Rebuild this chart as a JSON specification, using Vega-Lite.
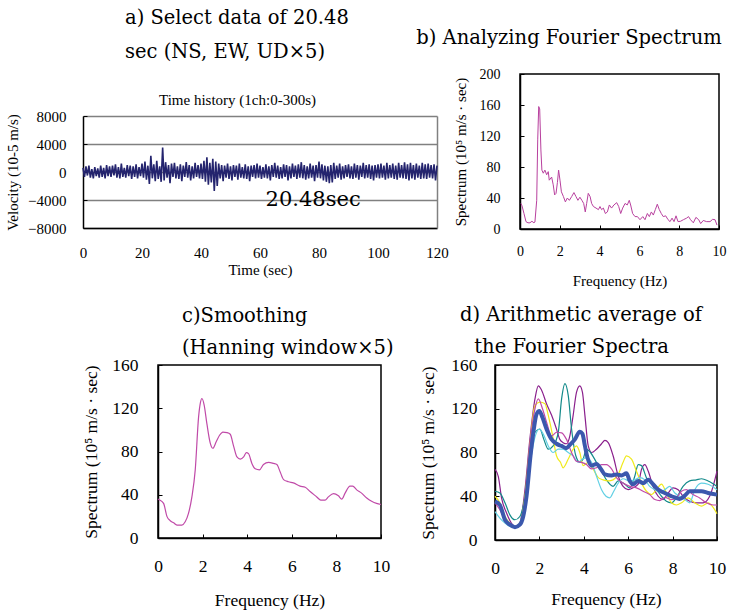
{
  "$schema": "https://vega.github.io/schema/vega-lite/v6.json",
  "autosize": {"type": "none"},
  "padding": {"left": 158, "top": 74, "right": 586, "bottom": 536},
  "background": "white",
  "config": {
    "font": "Liberation Serif",
    "view": {"stroke": "black", "strokeWidth": 1.5},
    "axis": {"labelFont": "Liberation Serif", "labelFontSize": 15, "labelColor": "black", "titleFont": "Liberation Serif", "titleFontSize": 15, "titleFontWeight": "normal", "titleColor": "black", "domainColor": "black", "domainWidth": 1.5, "tickColor": "black", "grid": false, "tickSize": -4, "labelFlush": false, "labelOverlap": false},
    "title": {"font": "DejaVu Serif", "fontSize": 19.5, "fontWeight": "normal", "color": "black", "frame": "group"}
  },
  "datasets": {
    "ts": [
      {"t":0,"v":600},{"t":0.5,"v":-700},{"t":1,"v":800},{"t":1.5,"v":-500},{"t":2,"v":900},{"t":2.5,"v":-800},{"t":3,"v":400},{"t":3.5,"v":-900},{"t":4,"v":700},{"t":4.5,"v":-600},
      {"t":5,"v":500},{"t":5.5,"v":-800},{"t":6,"v":900},{"t":6.5,"v":-700},{"t":7,"v":600},{"t":7.5,"v":-900},{"t":8,"v":1000},{"t":8.5,"v":-600},{"t":9,"v":800},{"t":9.5,"v":-700},
      {"t":10,"v":900},{"t":10.5,"v":-500},{"t":11,"v":1100},{"t":11.5,"v":-800},{"t":12,"v":700},{"t":12.5,"v":-900},{"t":13,"v":1200},{"t":13.5,"v":-700},{"t":14,"v":600},{"t":14.5,"v":-800},
      {"t":15,"v":1000},{"t":15.5,"v":-600},{"t":16,"v":900},{"t":16.5,"v":-1000},{"t":17,"v":800},{"t":17.5,"v":-700},{"t":18,"v":1100},{"t":18.5,"v":-900},{"t":19,"v":700},{"t":19.5,"v":-600},
      {"t":20,"v":1200},{"t":20.5,"v":-800},{"t":21,"v":1500},{"t":21.5,"v":-1100},{"t":22,"v":900},{"t":22.5,"v":-1700},{"t":23,"v":2300},{"t":23.5,"v":-900},{"t":24,"v":1100},{"t":24.5,"v":-1300},
      {"t":25,"v":1600},{"t":25.5,"v":-1000},{"t":26,"v":800},{"t":26.5,"v":-1400},{"t":27,"v":3500},{"t":27.5,"v":-1200},{"t":28,"v":1400},{"t":28.5,"v":-800},{"t":29,"v":1000},{"t":29.5,"v":-1600},
      {"t":30,"v":1200},{"t":30.5,"v":-700},{"t":31,"v":1300},{"t":31.5,"v":-900},{"t":32,"v":800},{"t":32.5,"v":-1000},{"t":33,"v":1100},{"t":33.5,"v":-1300},{"t":34,"v":900},{"t":34.5,"v":-700},
      {"t":35,"v":1400},{"t":35.5,"v":-800},{"t":36,"v":1000},{"t":36.5,"v":-1200},{"t":37,"v":800},{"t":37.5,"v":-900},{"t":38,"v":1300},{"t":38.5,"v":-700},{"t":39,"v":1000},{"t":39.5,"v":-900},
      {"t":40,"v":1200},{"t":40.5,"v":-1000},{"t":41,"v":1600},{"t":41.5,"v":-1400},{"t":42,"v":2100},{"t":42.5,"v":-1800},{"t":43,"v":1300},{"t":43.5,"v":-1500},{"t":44,"v":1900},{"t":44.5,"v":-2700},
      {"t":45,"v":1500},{"t":45.5,"v":-2000},{"t":46,"v":1200},{"t":46.5,"v":-900},{"t":47,"v":1000},{"t":47.5,"v":-1300},{"t":48,"v":900},{"t":48.5,"v":-800},{"t":49,"v":1200},{"t":49.5,"v":-1000},
      {"t":50,"v":800},{"t":50.5,"v":-1200},{"t":51,"v":1000},{"t":51.5,"v":-700},{"t":52,"v":900},{"t":52.5,"v":-1100},{"t":53,"v":1200},{"t":53.5,"v":-800},{"t":54,"v":700},{"t":54.5,"v":-900},
      {"t":55,"v":1100},{"t":55.5,"v":-1000},{"t":56,"v":800},{"t":56.5,"v":-1300},{"t":57,"v":900},{"t":57.5,"v":-700},{"t":58,"v":1000},{"t":58.5,"v":-900},{"t":59,"v":1200},{"t":59.5,"v":-800},
      {"t":60,"v":900},{"t":60.5,"v":-1000},{"t":61,"v":700},{"t":61.5,"v":-800},{"t":62,"v":1100},{"t":62.5,"v":-900},{"t":63,"v":800},{"t":63.5,"v":-1200},{"t":64,"v":1000},{"t":64.5,"v":-700},
      {"t":65,"v":1300},{"t":65.5,"v":-800},{"t":66,"v":900},{"t":66.5,"v":-1000},{"t":67,"v":700},{"t":67.5,"v":-900},{"t":68,"v":1100},{"t":68.5,"v":-700},{"t":69,"v":1000},{"t":69.5,"v":-1200},
      {"t":70,"v":800},{"t":70.5,"v":-900},{"t":71,"v":1200},{"t":71.5,"v":-700},{"t":72,"v":900},{"t":72.5,"v":-1000},{"t":73,"v":1100},{"t":73.5,"v":-800},{"t":74,"v":1400},{"t":74.5,"v":-900},
      {"t":75,"v":1000},{"t":75.5,"v":-1100},{"t":76,"v":800},{"t":76.5,"v":-900},{"t":77,"v":1200},{"t":77.5,"v":-800},{"t":78,"v":900},{"t":78.5,"v":-1300},{"t":79,"v":1000},{"t":79.5,"v":-800},
      {"t":80,"v":1500},{"t":80.5,"v":-900},{"t":81,"v":1100},{"t":81.5,"v":-1200},{"t":82,"v":900},{"t":82.5,"v":-1400},{"t":83,"v":800},{"t":83.5,"v":-1600},{"t":84,"v":1000},{"t":84.5,"v":-1500},
      {"t":85,"v":1300},{"t":85.5,"v":-1000},{"t":86,"v":900},{"t":86.5,"v":-800},{"t":87,"v":1200},{"t":87.5,"v":-1100},{"t":88,"v":800},{"t":88.5,"v":-900},{"t":89,"v":1000},{"t":89.5,"v":-700},
      {"t":90,"v":1100},{"t":90.5,"v":-900},{"t":91,"v":800},{"t":91.5,"v":-1000},{"t":92,"v":1200},{"t":92.5,"v":-800},{"t":93,"v":1000},{"t":93.5,"v":-1100},{"t":94,"v":900},{"t":94.5,"v":-700},
      {"t":95,"v":1300},{"t":95.5,"v":-900},{"t":96,"v":1000},{"t":96.5,"v":-800},{"t":97,"v":1100},{"t":97.5,"v":-1000},{"t":98,"v":900},{"t":98.5,"v":-1200},{"t":99,"v":1000},{"t":99.5,"v":-800},
      {"t":100,"v":1100},{"t":100.5,"v":-900},{"t":101,"v":1200},{"t":101.5,"v":-800},{"t":102,"v":900},{"t":102.5,"v":-1100},{"t":103,"v":1300},{"t":103.5,"v":-900},{"t":104,"v":1000},{"t":104.5,"v":-800},
      {"t":105,"v":1200},{"t":105.5,"v":-1000},{"t":106,"v":900},{"t":106.5,"v":-1100},{"t":107,"v":1300},{"t":107.5,"v":-800},{"t":108,"v":1000},{"t":108.5,"v":-900},{"t":109,"v":1400},{"t":109.5,"v":-1000},
      {"t":110,"v":1100},{"t":110.5,"v":-1200},{"t":111,"v":1300},{"t":111.5,"v":-900},{"t":112,"v":1000},{"t":112.5,"v":-1100},{"t":113,"v":1200},{"t":113.5,"v":-800},{"t":114,"v":900},{"t":114.5,"v":-1000},
      {"t":115,"v":1300},{"t":115.5,"v":-900},{"t":116,"v":1100},{"t":116.5,"v":-1000},{"t":117,"v":1200},{"t":117.5,"v":-800},{"t":118,"v":1000},{"t":118.5,"v":-900},{"t":119,"v":1100},{"t":119.5,"v":-1200},
      {"t":120,"v":900}
    ],
    "fourier": [
      {"f":0.05,"s":33},{"f":0.1,"s":30},{"f":0.2,"s":20},{"f":0.3,"s":9.5},{"f":0.4,"s":8},{"f":0.5,"s":8},{"f":0.6,"s":10},{"f":0.7,"s":8},{"f":0.75,"s":9},{"f":0.84,"s":37},
      {"f":0.89,"s":115},{"f":0.94,"s":158},{"f":0.99,"s":155},{"f":1.05,"s":102},{"f":1.1,"s":76},{"f":1.17,"s":72},{"f":1.25,"s":76},{"f":1.34,"s":70},{"f":1.42,"s":74},{"f":1.47,"s":63},
      {"f":1.59,"s":67},{"f":1.67,"s":57},{"f":1.74,"s":44},{"f":1.81,"s":46},{"f":1.88,"s":60},{"f":1.94,"s":76},{"f":2.01,"s":63},{"f":2.08,"s":48},{"f":2.18,"s":42},{"f":2.28,"s":35},
      {"f":2.38,"s":40},{"f":2.48,"s":37},{"f":2.6,"s":42},{"f":2.71,"s":47},{"f":2.81,"s":42},{"f":2.91,"s":37},{"f":3.01,"s":41},{"f":3.11,"s":37},{"f":3.2,"s":33},{"f":3.28,"s":22},
      {"f":3.35,"s":33},{"f":3.43,"s":46},{"f":3.52,"s":42},{"f":3.6,"s":33},{"f":3.69,"s":29},{"f":3.82,"s":27},{"f":3.94,"s":25},{"f":4.02,"s":29},{"f":4.1,"s":25},{"f":4.19,"s":27},
      {"f":4.29,"s":20},{"f":4.39,"s":22},{"f":4.49,"s":31},{"f":4.6,"s":27},{"f":4.72,"s":31},{"f":4.86,"s":34},{"f":4.96,"s":29},{"f":5.06,"s":20},{"f":5.16,"s":27},{"f":5.28,"s":33},
      {"f":5.39,"s":31},{"f":5.49,"s":37},{"f":5.56,"s":31},{"f":5.66,"s":20},{"f":5.78,"s":16},{"f":5.9,"s":16},{"f":6.03,"s":12},{"f":6.17,"s":16},{"f":6.28,"s":12},{"f":6.4,"s":20},
      {"f":6.5,"s":16},{"f":6.6,"s":22},{"f":6.7,"s":18},{"f":6.8,"s":25},{"f":6.9,"s":32},{"f":7.0,"s":25},{"f":7.1,"s":20},{"f":7.2,"s":16},{"f":7.32,"s":17},{"f":7.44,"s":12},
      {"f":7.54,"s":9.5},{"f":7.64,"s":14},{"f":7.74,"s":9.5},{"f":7.84,"s":17},{"f":7.94,"s":9.5},{"f":8.07,"s":10},{"f":8.21,"s":12},{"f":8.37,"s":14},{"f":8.47,"s":16},{"f":8.57,"s":12},
      {"f":8.71,"s":8},{"f":8.84,"s":15},{"f":8.98,"s":12},{"f":9.08,"s":7},{"f":9.21,"s":11},{"f":9.38,"s":9.5},{"f":9.55,"s":9.5},{"f":9.68,"s":12.5},{"f":9.8,"s":12},{"f":9.9,"s":5}
    ],
    "smooth": [
      {"f":0,"s":36},{"f":0.05,"s":35.4},{"f":0.25,"s":32},{"f":0.4,"s":20},{"f":0.55,"s":16},{"f":0.7,"s":14},{"f":0.85,"s":12},{"f":1.07,"s":12},{"f":1.22,"s":15},{"f":1.37,"s":23},
      {"f":1.52,"s":38},{"f":1.67,"s":63},{"f":1.82,"s":112},{"f":1.9,"s":125},{"f":1.97,"s":129},{"f":2.07,"s":123},{"f":2.19,"s":106},{"f":2.34,"s":88},{"f":2.46,"s":83},{"f":2.61,"s":89},
      {"f":2.76,"s":95},{"f":2.91,"s":98},{"f":3.09,"s":97.5},{"f":3.24,"s":96},{"f":3.39,"s":85},{"f":3.54,"s":75},{"f":3.69,"s":73},{"f":3.84,"s":75},{"f":3.96,"s":79},{"f":4.06,"s":78},
      {"f":4.21,"s":69},{"f":4.36,"s":64},{"f":4.55,"s":63},{"f":4.73,"s":68},{"f":4.96,"s":70},{"f":5.18,"s":69},{"f":5.33,"s":68},{"f":5.48,"s":61},{"f":5.63,"s":54},{"f":5.85,"s":52},
      {"f":6.07,"s":51},{"f":6.37,"s":48},{"f":6.6,"s":47},{"f":6.82,"s":43},{"f":7.12,"s":38},{"f":7.3,"s":35},{"f":7.49,"s":35},{"f":7.64,"s":38},{"f":7.87,"s":41},{"f":8.09,"s":39},
      {"f":8.24,"s":36},{"f":8.39,"s":41.5},{"f":8.61,"s":48},{"f":8.73,"s":48},{"f":8.91,"s":44.5},{"f":9.13,"s":41.5},{"f":9.36,"s":37},{"f":9.58,"s":34},{"f":9.8,"s":32},{"f":10,"s":31}
    ],
    "spectra": [
      {"series":"purple","f":0,"s":64.6},{"series":"purple","f":0.15,"s":58},{"series":"purple","f":0.3,"s":38},{"series":"purple","f":0.52,"s":24.6},{"series":"purple","f":0.75,"s":15},{"series":"purple","f":0.97,"s":11.7},{"series":"purple","f":1.12,"s":15},{"series":"purple","f":1.35,"s":46},{"series":"purple","f":1.57,"s":92},{"series":"purple","f":1.8,"s":129},{"series":"purple","f":1.95,"s":141},{"series":"purple","f":2.1,"s":137},{"series":"purple","f":2.32,"s":124.6},{"series":"purple","f":2.55,"s":114},{"series":"purple","f":2.77,"s":101.5},{"series":"purple","f":2.92,"s":92},{"series":"purple","f":3.07,"s":89},{"series":"purple","f":3.22,"s":88},{"series":"purple","f":3.37,"s":95},{"series":"purple","f":3.52,"s":114},{"series":"purple","f":3.67,"s":135},{"series":"purple","f":3.82,"s":141},{"series":"purple","f":3.94,"s":135},{"series":"purple","f":4.05,"s":114},{"series":"purple","f":4.2,"s":86},{"series":"purple","f":4.35,"s":80},{"series":"purple","f":4.57,"s":83},{"series":"purple","f":4.8,"s":88},{"series":"purple","f":4.95,"s":91},{"series":"purple","f":5.1,"s":89},{"series":"purple","f":5.32,"s":77},{"series":"purple","f":5.55,"s":58.5},{"series":"purple","f":5.77,"s":49},{"series":"purple","f":6.0,"s":46},{"series":"purple","f":6.22,"s":47.7},{"series":"purple","f":6.45,"s":51},{"series":"purple","f":6.6,"s":64.6},{"series":"purple","f":6.75,"s":69},{"series":"purple","f":6.9,"s":63},{"series":"purple","f":7.12,"s":49},{"series":"purple","f":7.35,"s":40},{"series":"purple","f":7.57,"s":37},{"series":"purple","f":7.8,"s":43},{"series":"purple","f":8.02,"s":47.7},{"series":"purple","f":8.25,"s":46},{"series":"purple","f":8.47,"s":40},{"series":"purple","f":8.77,"s":35.4},{"series":"purple","f":9.07,"s":34},{"series":"purple","f":9.37,"s":34},{"series":"purple","f":9.67,"s":40},{"series":"purple","f":10,"s":63},
      {"series":"teal","f":0,"s":44.6},{"series":"teal","f":0.22,"s":43},{"series":"teal","f":0.45,"s":34},{"series":"teal","f":0.67,"s":23},{"series":"teal","f":0.9,"s":18.5},{"series":"teal","f":1.12,"s":21.5},{"series":"teal","f":1.35,"s":40},{"series":"teal","f":1.57,"s":77},{"series":"teal","f":1.8,"s":98.5},{"series":"teal","f":2.02,"s":101.5},{"series":"teal","f":2.2,"s":92},{"series":"teal","f":2.4,"s":83},{"series":"teal","f":2.62,"s":86},{"series":"teal","f":2.85,"s":98.5},{"series":"teal","f":3.0,"s":129},{"series":"teal","f":3.15,"s":143},{"series":"teal","f":3.3,"s":132},{"series":"teal","f":3.45,"s":101.5},{"series":"teal","f":3.64,"s":77},{"series":"teal","f":3.82,"s":71},{"series":"teal","f":3.97,"s":74},{"series":"teal","f":4.12,"s":83},{"series":"teal","f":4.3,"s":80},{"series":"teal","f":4.57,"s":71},{"series":"teal","f":4.8,"s":63},{"series":"teal","f":5.02,"s":55},{"series":"teal","f":5.32,"s":49},{"series":"teal","f":5.55,"s":54},{"series":"teal","f":5.85,"s":51},{"series":"teal","f":6.07,"s":47.7},{"series":"teal","f":6.3,"s":58.5},{"series":"teal","f":6.45,"s":69},{"series":"teal","f":6.6,"s":68},{"series":"teal","f":6.82,"s":57},{"series":"teal","f":7.05,"s":51},{"series":"teal","f":7.27,"s":46},{"series":"teal","f":7.5,"s":40},{"series":"teal","f":7.72,"s":35.4},{"series":"teal","f":7.95,"s":34},{"series":"teal","f":8.17,"s":38.5},{"series":"teal","f":8.47,"s":49},{"series":"teal","f":8.77,"s":54},{"series":"teal","f":9.07,"s":55},{"series":"teal","f":9.3,"s":56},{"series":"teal","f":9.6,"s":54},{"series":"teal","f":10,"s":49},
      {"series":"yellow","f":0,"s":40},{"series":"yellow","f":0.22,"s":34},{"series":"yellow","f":0.45,"s":21.5},{"series":"yellow","f":0.67,"s":15.4},{"series":"yellow","f":0.9,"s":12.3},{"series":"yellow","f":1.12,"s":15.4},{"series":"yellow","f":1.35,"s":40},{"series":"yellow","f":1.57,"s":86},{"series":"yellow","f":1.8,"s":123},{"series":"yellow","f":2.02,"s":126},{"series":"yellow","f":2.25,"s":124.6},{"series":"yellow","f":2.4,"s":114},{"series":"yellow","f":2.6,"s":95},{"series":"yellow","f":2.77,"s":77},{"series":"yellow","f":2.95,"s":71},{"series":"yellow","f":3.07,"s":66},{"series":"yellow","f":3.3,"s":74},{"series":"yellow","f":3.52,"s":83},{"series":"yellow","f":3.67,"s":86},{"series":"yellow","f":3.82,"s":80},{"series":"yellow","f":3.97,"s":68},{"series":"yellow","f":4.2,"s":71},{"series":"yellow","f":4.42,"s":65},{"series":"yellow","f":4.65,"s":57},{"series":"yellow","f":4.87,"s":55},{"series":"yellow","f":5.1,"s":54},{"series":"yellow","f":5.32,"s":55},{"series":"yellow","f":5.55,"s":60},{"series":"yellow","f":5.77,"s":71},{"series":"yellow","f":5.92,"s":77},{"series":"yellow","f":6.15,"s":74},{"series":"yellow","f":6.37,"s":63},{"series":"yellow","f":6.6,"s":52},{"series":"yellow","f":6.82,"s":44.6},{"series":"yellow","f":7.05,"s":41.5},{"series":"yellow","f":7.27,"s":46},{"series":"yellow","f":7.5,"s":51},{"series":"yellow","f":7.72,"s":43},{"series":"yellow","f":7.95,"s":34},{"series":"yellow","f":8.17,"s":32},{"series":"yellow","f":8.4,"s":34},{"series":"yellow","f":8.7,"s":38.5},{"series":"yellow","f":9.0,"s":34},{"series":"yellow","f":9.3,"s":31},{"series":"yellow","f":9.6,"s":34},{"series":"yellow","f":10,"s":24},
      {"series":"cyan","f":0,"s":26},{"series":"cyan","f":0.22,"s":20},{"series":"cyan","f":0.45,"s":15.4},{"series":"cyan","f":0.67,"s":12.3},{"series":"cyan","f":0.9,"s":11.4},{"series":"cyan","f":1.12,"s":15.4},{"series":"cyan","f":1.35,"s":34},{"series":"cyan","f":1.57,"s":68},{"series":"cyan","f":1.8,"s":94},{"series":"cyan","f":2.0,"s":101.5},{"series":"cyan","f":2.17,"s":97},{"series":"cyan","f":2.4,"s":86},{"series":"cyan","f":2.62,"s":80},{"series":"cyan","f":2.85,"s":83},{"series":"cyan","f":3.07,"s":83},{"series":"cyan","f":3.3,"s":80},{"series":"cyan","f":3.52,"s":77},{"series":"cyan","f":3.75,"s":71},{"series":"cyan","f":3.94,"s":74},{"series":"cyan","f":4.12,"s":75},{"series":"cyan","f":4.35,"s":71},{"series":"cyan","f":4.57,"s":58.5},{"series":"cyan","f":4.8,"s":46},{"series":"cyan","f":5.0,"s":40},{"series":"cyan","f":5.17,"s":38.5},{"series":"cyan","f":5.35,"s":44.6},{"series":"cyan","f":5.55,"s":52},{"series":"cyan","f":5.77,"s":56},{"series":"cyan","f":6.07,"s":54},{"series":"cyan","f":6.3,"s":55},{"series":"cyan","f":6.52,"s":57},{"series":"cyan","f":6.75,"s":55},{"series":"cyan","f":6.97,"s":49},{"series":"cyan","f":7.2,"s":46},{"series":"cyan","f":7.42,"s":43.7},{"series":"cyan","f":7.65,"s":46},{"series":"cyan","f":7.87,"s":49},{"series":"cyan","f":8.1,"s":43},{"series":"cyan","f":8.32,"s":40},{"series":"cyan","f":8.55,"s":37},{"series":"cyan","f":8.77,"s":34},{"series":"cyan","f":9.0,"s":46},{"series":"cyan","f":9.3,"s":52},{"series":"cyan","f":9.6,"s":51},{"series":"cyan","f":10,"s":46},
      {"series":"magenta","f":0,"s":34},{"series":"magenta","f":0.22,"s":27.7},{"series":"magenta","f":0.45,"s":18.5},{"series":"magenta","f":0.67,"s":14},{"series":"magenta","f":0.9,"s":11.7},{"series":"magenta","f":1.12,"s":13},{"series":"magenta","f":1.35,"s":34},{"series":"magenta","f":1.57,"s":86},{"series":"magenta","f":1.8,"s":120},{"series":"magenta","f":1.95,"s":129},{"series":"magenta","f":2.14,"s":120},{"series":"magenta","f":2.32,"s":108},{"series":"magenta","f":2.55,"s":95},{"series":"magenta","f":2.77,"s":98.5},{"series":"magenta","f":3.0,"s":98},{"series":"magenta","f":3.22,"s":92},{"series":"magenta","f":3.45,"s":80},{"series":"magenta","f":3.67,"s":72},{"series":"magenta","f":3.9,"s":71},{"series":"magenta","f":4.12,"s":69},{"series":"magenta","f":4.35,"s":65},{"series":"magenta","f":4.57,"s":66},{"series":"magenta","f":4.8,"s":69},{"series":"magenta","f":5.02,"s":69},{"series":"magenta","f":5.25,"s":65},{"series":"magenta","f":5.47,"s":57},{"series":"magenta","f":5.77,"s":52},{"series":"magenta","f":6.07,"s":49},{"series":"magenta","f":6.37,"s":47.7},{"series":"magenta","f":6.67,"s":44.6},{"series":"magenta","f":6.97,"s":41.5},{"series":"magenta","f":7.2,"s":37},{"series":"magenta","f":7.42,"s":36},{"series":"magenta","f":7.65,"s":39},{"series":"magenta","f":7.95,"s":37},{"series":"magenta","f":8.17,"s":38.5},{"series":"magenta","f":8.4,"s":44.6},{"series":"magenta","f":8.62,"s":46},{"series":"magenta","f":8.92,"s":41.5},{"series":"magenta","f":9.22,"s":38.5},{"series":"magenta","f":9.52,"s":34},{"series":"magenta","f":9.82,"s":32},{"series":"magenta","f":10,"s":32}
    ],
    "average": [
      {"f":0,"s":35.4},{"f":0.22,"s":32},{"f":0.45,"s":18.5},{"f":0.67,"s":14},{"f":0.9,"s":11.7},{"f":1.12,"s":14},{"f":1.27,"s":21.5},{"f":1.42,"s":40},{"f":1.6,"s":77},{"f":1.75,"s":101.5},
      {"f":1.87,"s":115},{"f":2.0,"s":118},{"f":2.14,"s":112},{"f":2.32,"s":101.5},{"f":2.55,"s":92},{"f":2.77,"s":88},{"f":3.0,"s":86},{"f":3.22,"s":84},{"f":3.37,"s":87},{"f":3.6,"s":92},
      {"f":3.82,"s":99},{"f":3.94,"s":97},{"f":4.05,"s":86},{"f":4.17,"s":75},{"f":4.35,"s":68},{"f":4.57,"s":69.5},{"f":4.77,"s":65},{"f":4.95,"s":60},{"f":5.25,"s":59},{"f":5.47,"s":60},
      {"f":5.7,"s":59},{"f":5.92,"s":61},{"f":6.07,"s":54},{"f":6.22,"s":51},{"f":6.45,"s":54},{"f":6.67,"s":52},{"f":6.9,"s":55},{"f":7.12,"s":51},{"f":7.35,"s":46},{"f":7.57,"s":43.7},
      {"f":7.8,"s":41.5},{"f":7.95,"s":40},{"f":8.17,"s":38.5},{"f":8.32,"s":37.5},{"f":8.55,"s":40.6},{"f":8.77,"s":44.6},{"f":9.0,"s":44.6},{"f":9.3,"s":44.6},{"f":9.6,"s":43},{"f":10,"s":41.5}
    ]
  },
  "bounds": "flush",
  "spacing": 291,
  "vconcat": [
    {
      "bounds": "flush",
      "spacing": 83,
      "hconcat": [
        {
          "width": 279,
          "height": 154,
          "view": {"stroke": null},
          "title": {"text": ["a) Select data of 20.48", "sec (NS, EW, UD×5)"], "anchor": "start", "align": "left", "dx": -33, "offset": 12, "lineHeight": 34},
          "resolve": {"axis": {"x": "independent", "y": "independent"}},
          "layer": [
            {
              "data": {"name": "ts"},
              "mark": {"type": "line", "color": "#24246e", "strokeWidth": 1.6},
              "encoding": {
                "x": {"field": "t", "type": "quantitative", "scale": {"domain": [0, 120], "range": [-75, 279], "nice": false},
                      "axis": {"values": [0, 20, 40, 60, 80, 100, 120], "tickCount": 20, "title": "Time (sec)", "titleFontWeight": "normal", "tickSize": 0, "labelPadding": 17, "titlePadding": 2, "labelOverlap": false}},
                "y": {"field": "v", "type": "quantitative", "scale": {"domain": [-8000, 8000], "range": [154, 42], "nice": false},
                      "axis": {"values": [-8000, -4000, 0, 4000, 8000], "tickCount": 20, "format": "d", "title": "Velocity (10-5 m/s)", "titleFontWeight": "normal", "offset": 75, "labelPadding": 21, "titlePadding": 7, "labelOverlap": false, "grid": true, "gridColor": "#808080", "gridWidth": 1.5}}
              }
            },
            {
              "data": {"values": [{"t": 78, "v": -4000, "label": "20.48sec"}]},
              "mark": {"type": "text", "font": "DejaVu Serif", "fontSize": 21, "color": "black", "baseline": "middle", "align": "center"},
              "encoding": {
                "x": {"field": "t", "type": "quantitative",
                      "axis": {"orient": "top", "offset": -42, "labels": false, "ticks": false, "domain": false, "grid": false, "title": "Time history (1ch:0-300s)", "titleFontWeight": "normal", "titleX": 79, "titlePadding": 9}},
                "y": {"field": "v", "type": "quantitative",
                      "axis": {"orient": "right", "labels": false, "ticks": false, "grid": false, "title": null, "domainColor": "#808080", "domainWidth": 1.5}},
                "text": {"field": "label"}
              }
            }
          ]
        },
        {
          "width": 199,
          "height": 155,
          "title": {"text": "b) Analyzing Fourier Spectrum", "anchor": "start", "align": "center", "dx": 49, "offset": 19},
          "data": {"name": "fourier"},
          "mark": {"type": "line", "color": "#b8409e", "strokeWidth": 1},
          "encoding": {
            "x": {"field": "f", "type": "quantitative", "scale": {"domain": [0, 10], "nice": false},
                  "axis": {"values": [0, 2, 4, 6, 8, 10], "title": "Frequency (Hz)", "titleFontWeight": "normal", "labelFontSize": 14, "labelPadding": 19.5, "titlePadding": 15}},
            "y": {"field": "s", "type": "quantitative", "scale": {"domain": [0, 200], "nice": false},
                  "axis": {"values": [0, 40, 80, 120, 160, 200], "title": "Spectrum (10⁵ m/s · sec)", "titleFontWeight": "normal", "labelFontSize": 14, "labelPadding": 24, "titlePadding": 11}}
          }
        }
      ]
    },
    {
      "bounds": "flush",
      "spacing": 114,
      "hconcat": [
        {
          "width": 223,
          "height": 173,
          "title": {"text": ["c)Smoothing", "(Hanning window×5)"], "anchor": "start", "align": "left", "dx": 24, "offset": -2.5, "lineHeight": 32},
          "data": {"name": "smooth"},
          "mark": {"type": "line", "color": "#c04aa8", "strokeWidth": 1.2, "interpolate": "monotone"},
          "encoding": {
            "x": {"field": "f", "type": "quantitative", "scale": {"domain": [0, 10], "nice": false},
                  "axis": {"values": [0, 2, 4, 6, 8, 10], "title": "Frequency (Hz)", "titleFontWeight": "normal", "labelFontSize": 17.5, "titleFontSize": 17.5, "labelPadding": 23, "titlePadding": 17}},
            "y": {"field": "s", "type": "quantitative", "scale": {"domain": [0, 160], "nice": false},
                  "axis": {"values": [0, 40, 80, 120, 160], "title": "Spectrum (10⁵ m/s · sec)", "titleFontWeight": "normal", "labelFontSize": 17.5, "titleFontSize": 17.5, "labelPadding": 24, "titlePadding": 11}}
          }
        },
        {
          "width": 222,
          "height": 175,
          "title": {"text": ["d) Arithmetic average of", "\u2800the Fourier Spectra"], "anchor": "start", "align": "left", "dx": -35, "offset": -1.5, "lineHeight": 32},
          "layer": [
            {
              "data": {"name": "spectra"},
              "mark": {"type": "line", "strokeWidth": 1.2, "interpolate": "monotone"},
              "encoding": {
                "x": {"field": "f", "type": "quantitative", "scale": {"domain": [0, 10], "nice": false},
                      "axis": {"values": [0, 2, 4, 6, 8, 10], "title": "Frequency (Hz)", "titleFontWeight": "normal", "labelFontSize": 17.5, "titleFontSize": 17.5, "labelPadding": 23, "titlePadding": 14}},
                "y": {"field": "s", "type": "quantitative", "scale": {"domain": [0, 160], "nice": false},
                      "axis": {"values": [0, 40, 80, 120, 160], "title": "Spectrum (10⁵ m/s · sec)", "titleFontWeight": "normal", "labelFontSize": 17.5, "titleFontSize": 17.5, "labelPadding": 22, "titlePadding": 13}},
                "color": {"field": "series", "type": "nominal", "legend": null,
                          "scale": {"domain": ["purple", "teal", "yellow", "cyan", "magenta"], "range": ["#8a1f8c", "#138a8a", "#f0ea1c", "#62d0e4", "#c04aa8"]}}
              }
            },
            {
              "data": {"name": "average"},
              "mark": {"type": "line", "color": "#3b58ad", "strokeWidth": 4, "interpolate": "monotone"},
              "encoding": {
                "x": {"field": "f", "type": "quantitative"},
                "y": {"field": "s", "type": "quantitative"}
              }
            }
          ]
        }
      ]
    }
  ]
}
